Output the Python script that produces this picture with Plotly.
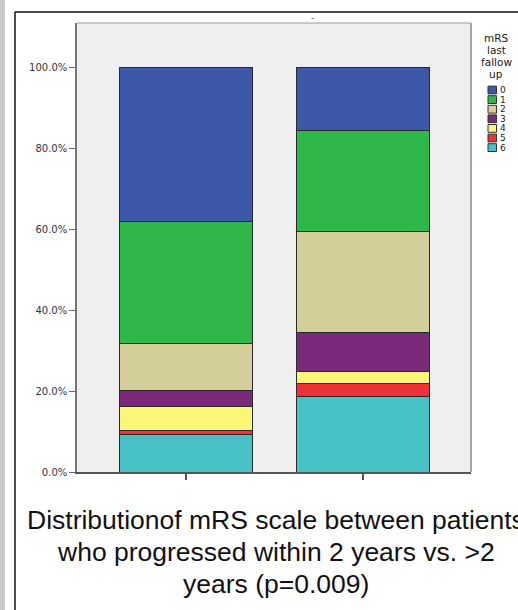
import plotly.graph_objects as go

# ---- data ----
groups = ["<=2 years", ">2 years"]
mrs_levels = ["0", "1", "2", "3", "4", "5", "6"]
# percent of patients at each mRS level (bar 1, bar 2)
pct_0 = [37.9, 15.6]
pct_1 = [30.2, 24.9]
pct_2 = [11.7, 25.0]
pct_3 = [3.9, 9.6]
pct_4 = [6.1, 2.9]
pct_5 = [1.0, 3.3]
pct_6 = [9.2, 18.7]
level_colors = ["#3D58A9", "#2FB84A", "#D4CF9A", "#7A297B", "#FBF677", "#EF3239", "#48C2C6"]
y_tickvals = [0, 20, 40, 60, 80, 100]
y_ticktext = ["0.0%", "20.0%", "40.0%", "60.0%", "80.0%", "100.0%"]
legend_title_lines = ["mRS", "last", "fallow", "up"]
caption_lines = ["Distributionof mRS scale between patients",
                 "who progressed within 2 years vs. >2",
                 "years (p=0.009)"]

series = [pct_0, pct_1, pct_2, pct_3, pct_4, pct_5, pct_6]

W, H = 518, 610
L, R, T, B = 77, 471, 23, 472  # plot area in pixels


def px(x):
    return (x - L) / (R - L)


def py(y):
    return (B - y) / (B - T)


fig = go.Figure()
# stack from bottom (6) to top (0)
for lvl, vals, col in reversed(list(zip(mrs_levels, series, level_colors))):
    fig.add_trace(go.Bar(
        x=[0, 1], y=vals, name=lvl, width=0.75,
        marker=dict(color=col, line=dict(color="#2a2a2a", width=1)),
        showlegend=False,
    ))

shapes = []
annotations = []
# outer decorations
shapes.append(dict(type="rect", xref="paper", yref="paper", x0=px(0), x1=px(5), y0=py(H), y1=py(0),
                   fillcolor="#CBCBCB", line=dict(width=0), layer="below"))
shapes.append(dict(type="line", xref="paper", yref="paper", x0=px(15), x1=px(15), y0=py(12), y1=py(H),
                   line=dict(color="#111111", width=1.5)))
shapes.append(dict(type="line", xref="paper", yref="paper", x0=px(15), x1=px(W + 5), y0=py(12), y1=py(12),
                   line=dict(color="#111111", width=1.5)))
# plot area border (right and top)
shapes.append(dict(type="line", xref="paper", yref="paper", x0=1, x1=1, y0=0, y1=1,
                   line=dict(color="#8a8a8a", width=1.5)))
shapes.append(dict(type="line", xref="paper", yref="paper", x0=0, x1=1, y0=1, y1=1,
                   line=dict(color="#9a9a9a", width=1)))

# custom legend
for i, t in enumerate(legend_title_lines):
    annotations.append(dict(xref="paper", yref="paper", x=px(496), y=py(38 + 12 * i), text=t,
                            showarrow=False, xanchor="center", yanchor="middle",
                            font=dict(family="DejaVu Sans", size=10.5, color="#222222")))
for i, (lvl, col) in enumerate(zip(mrs_levels, level_colors)):
    yc = 90 + 9.6 * i
    shapes.append(dict(type="rect", xref="paper", yref="paper", x0=px(488), x1=px(496.5),
                       y0=py(yc + 3.9), y1=py(yc - 3.9), fillcolor=col,
                       line=dict(color="#333333", width=1)))
    annotations.append(dict(xref="paper", yref="paper", x=px(499), y=py(yc), text=lvl,
                            showarrow=False, xanchor="left", yanchor="middle", borderpad=0,
                            font=dict(family="DejaVu Sans", size=9, color="#222222")))

# small dash (empty title)
annotations.append(dict(xref="paper", yref="paper", x=px(312), y=py(18), text="-",
                        showarrow=False, xanchor="center", yanchor="middle",
                        font=dict(family="DejaVu Sans", size=9, color="#444444")))
# caption, one annotation per line (first line runs past the right edge, as in the reference)
for i, line in enumerate(caption_lines):
    annotations.append(dict(xref="paper", yref="paper", x=px(276), y=py(520 + 32 * i), text=line,
                            showarrow=False, xanchor="center", yanchor="middle", align="center",
                            font=dict(family="Liberation Sans", size=26.5, color="#111111")))

fig.update_layout(
    width=W, height=H,
    margin=dict(l=L, r=W - R, t=T, b=H - B, pad=0),
    barmode="stack",
    paper_bgcolor="white",
    plot_bgcolor="#EFEFEF",
    shapes=shapes,
    annotations=annotations,
    showlegend=False,
    xaxis=dict(range=[-0.613, 1.609], tickvals=[0, 1], showticklabels=False, ticks="outside",
               ticklen=6, tickcolor="#555555", tickwidth=1.5, showgrid=False, zeroline=False,
               showline=True, linecolor="#555555", linewidth=2, fixedrange=True),
    yaxis=dict(range=[0, 111.1], tickvals=y_tickvals, ticktext=y_ticktext, ticks="outside",
               ticklen=6, tickcolor="#666666", tickwidth=1, showgrid=False, zeroline=False,
               showline=True, linecolor="#777777", linewidth=1.5,
               tickfont=dict(family="DejaVu Sans", size=10, color="#333344")),
)

fig.write_html("out.html", config={"displayModeBar": False},
               post_script="document.body.style.margin='0';document.body.style.overflow='hidden';")
